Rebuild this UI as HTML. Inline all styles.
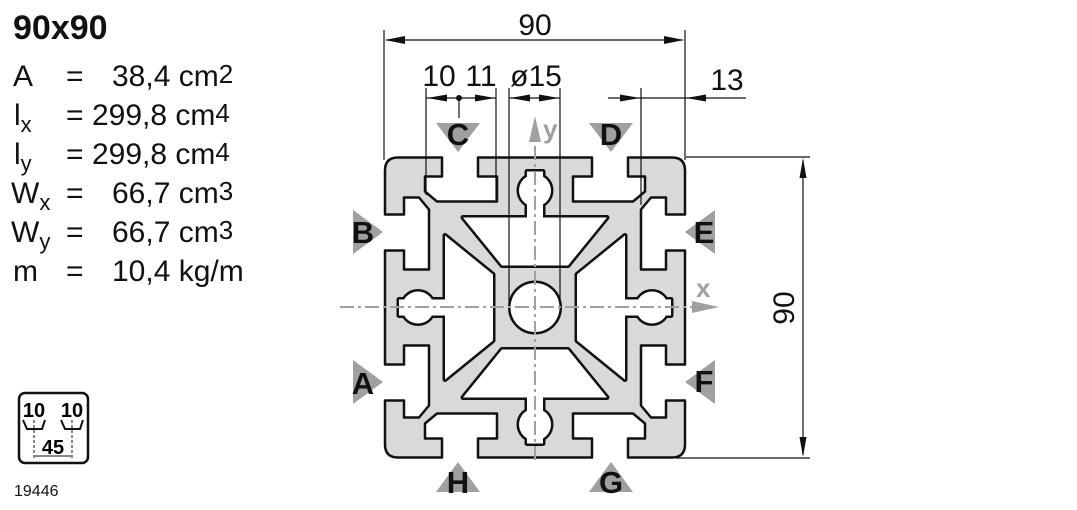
<!DOCTYPE html>
<html><head><meta charset="utf-8"><style>
html,body{margin:0;padding:0;background:#fff;}
body{width:1077px;height:510px;position:relative;overflow:hidden;font-family:"Liberation Sans",sans-serif;}
.t{position:absolute;font-size:30px;color:#111;white-space:nowrap;line-height:1;}
.s{font-size:26px;position:relative;top:-3px}
.b{font-size:22px;position:relative;top:7px}
</style></head><body>
<div class="t" style="left:13px;top:11px;font-weight:bold;font-size:34px;">90x90</div>
<div class="t" style="left:13px;top:62px;">A</div><div class="t" style="left:66px;top:62px;">=</div><div class="t" style="left:112px;top:62px;">38,4 cm<span class="s">2</span></div>
<div class="t" style="left:14px;top:101px;">l<span class="b">x</span></div><div class="t" style="left:66px;top:101px;">=</div><div class="t" style="left:92px;top:101px;">299,8 cm<span class="s">4</span></div>
<div class="t" style="left:14px;top:140px;">l<span class="b">y</span></div><div class="t" style="left:66px;top:140px;">=</div><div class="t" style="left:92px;top:140px;">299,8 cm<span class="s">4</span></div>
<div class="t" style="left:11px;top:179px;">W<span class="b">x</span></div><div class="t" style="left:66px;top:179px;">=</div><div class="t" style="left:112px;top:179px;">66,7 cm<span class="s">3</span></div>
<div class="t" style="left:11px;top:218px;">W<span class="b">y</span></div><div class="t" style="left:66px;top:218px;">=</div><div class="t" style="left:112px;top:218px;">66,7 cm<span class="s">3</span></div>
<div class="t" style="left:13px;top:257px;">m</div><div class="t" style="left:66px;top:257px;">=</div><div class="t" style="left:112px;top:257px;">10,4 kg/m</div>
<div class="t" style="left:14px;top:484px;font-size:16px;">19446</div>

<svg width="1077" height="510" style="position:absolute;left:0;top:0" xmlns="http://www.w3.org/2000/svg" font-family="Liberation Sans, sans-serif">
<!-- icon -->
<rect x="19" y="393" width="69" height="70" rx="6" fill="none" stroke="#111" stroke-width="2.5"/>
<text x="34" y="417" font-size="20" font-weight="bold" text-anchor="middle">10</text>
<text x="72" y="417" font-size="20" font-weight="bold" text-anchor="middle">10</text>
<path d="M23 420 L27 429 L42 429 L45 420 M61 420 L65 429 L80 429 L83 420" fill="none" stroke="#111" stroke-width="2"/>
<text x="53" y="454" font-size="20" font-weight="bold" text-anchor="middle">45</text>
<path d="M34 420 V458 M72 420 V458" stroke="#111" stroke-width="1" stroke-dasharray="3,2"/>
<path d="M35 456 H71" stroke="#111" stroke-width="1"/>

<!-- profile -->
<g transform="translate(535,307.5)">
<path fill="#d9d9d9" stroke="#111" stroke-width="2.5" stroke-linejoin="round" d="
M-137,-150 L-93,-150 L-93,-131 L-110,-131 L-110,-116 L-98,-106 L-38,-106 L-38,-131 L-57,-131 L-57,-150 L57,-150 L57,-131 L38,-131 L38,-106 L98,-106 L110,-116 L110,-131 L93,-131 L93,-150 L137,-150
Q150,-150 150,-137
L150,-93 L131,-93 L131,-110 L116,-110 L106,-98 L106,-38 L131,-38 L131,-57 L150,-57 L150,57 L131,57 L131,38 L106,38 L106,98 L116,110 L131,110 L131,93 L150,93 L150,137
Q150,150 137,150
L93,150 L93,131 L110,131 L110,116 L98,106 L38,106 L38,131 L57,131 L57,150 L-57,150 L-57,131 L-38,131 L-38,106 L-98,106 L-110,116 L-110,131 L-93,131 L-93,150 L-137,150
Q-150,150 -150,137
L-150,93 L-131,93 L-131,110 L-116,110 L-106,98 L-106,38 L-131,38 L-131,57 L-150,57 L-150,-57 L-131,-57 L-131,-38 L-106,-38 L-106,-98 L-116,-110 L-131,-110 L-131,-93 L-150,-93 L-150,-137
Q-150,-150 -137,-150 Z"/>
<defs>
<g id="holes">
<polygon points="-72,-90 72,-90 33,-42 -33,-42"/>
<polygon points="-72,90 72,90 33,42 -33,42"/>
<polygon points="-90,-72 -90,72 -42,33 -42,-33"/>
<polygon points="90,-72 90,72 42,33 42,-33"/>
<circle cx="0" cy="-117" r="16"/><rect x="-8" y="-136" width="16" height="50"/>
<circle cx="0" cy="117" r="16"/><rect x="-8" y="86" width="16" height="50"/>
<circle cx="-117" cy="0" r="16"/><rect x="-136" y="-8" width="50" height="16"/>
<circle cx="117" cy="0" r="16"/><rect x="86" y="-8" width="50" height="16"/>
<circle cx="0" cy="0" r="24.5"/>
</g>
</defs>
<use href="#holes" fill="#111" stroke="#111" stroke-width="5" stroke-linejoin="round"/>
<use href="#holes" fill="#fff"/>
</g>
<g stroke="#a0a0a0" stroke-width="2" stroke-dasharray="14,4,3,4" fill="none">
<line x1="535" y1="460" x2="535" y2="135"/>
<line x1="340" y1="307" x2="700" y2="307"/>
</g>
<polygon points="535,116 529,142 541,142" fill="#a0a0a0"/>
<polygon points="719,307 692,301 692,313" fill="#a0a0a0"/>
<text x="543" y="138" font-size="26" font-weight="bold" fill="#a0a0a0">y</text>
<text x="696" y="297" font-size="26" font-weight="bold" fill="#a0a0a0">x</text>

<!-- dimension lines -->
<g stroke="#111" stroke-width="1.2" fill="none">
<line x1="384" y1="30" x2="384" y2="160"/>
<line x1="685" y1="30" x2="685" y2="160"/>
<line x1="386" y1="40" x2="683" y2="40"/>
<line x1="426" y1="88" x2="426" y2="195"/>
<line x1="496" y1="88" x2="496" y2="200"/>
<line x1="509" y1="88" x2="509" y2="305"/>
<line x1="560" y1="88" x2="560" y2="305"/>
<line x1="426" y1="98" x2="496" y2="98"/>
<line x1="509" y1="98" x2="560" y2="98"/>
<line x1="459" y1="98" x2="459" y2="118"/>
<line x1="608" y1="98" x2="746" y2="98"/>
<line x1="641" y1="88" x2="641" y2="205"/>
<line x1="686" y1="157" x2="810" y2="157"/>
<line x1="676" y1="458" x2="810" y2="458"/>
<line x1="803" y1="160" x2="803" y2="455"/>
</g>
<g fill="#111">
<polygon points="385,40 405,36 405,44"/><polygon points="684,40 664,36 664,44"/>
<polygon points="427,98 447,94.5 447,101.5"/><polygon points="495,98 475,94.5 475,101.5"/>
<polygon points="510,98 530,94.5 530,101.5"/><polygon points="559,98 539,94.5 539,101.5"/>
<polygon points="640,98 620,94.5 620,101.5"/><polygon points="686,98 706,94.5 706,101.5"/>
<polygon points="803,158 799.5,178 806.5,178"/><polygon points="803,457 799.5,437 806.5,437"/>
<circle cx="459" cy="98" r="3"/>
</g>
<g font-size="30" fill="#111" text-anchor="middle">
<text x="535" y="35">90</text>
<text x="439" y="86">10</text>
<text x="481" y="86">11</text>
<text x="536" y="86">ø15</text>
<text x="727" y="90">13</text>
<text transform="translate(794,308) rotate(-90)">90</text>
</g>

<!-- side markers -->
<g fill="#a0a0a0">
<polygon points="436,123 480,123 458,152"/>
<polygon points="589,123 633,123 611,152"/>
<polygon points="436,492 480,492 458,462"/>
<polygon points="589,492 633,492 611,462"/>
<polygon points="353,210 353,254 383,232"/>
<polygon points="353,360 353,404 383,382"/>
<polygon points="715,210 715,254 685,232"/>
<polygon points="715,360 715,404 685,382"/>
</g>
<g font-size="31" font-weight="bold" fill="#111" text-anchor="middle">
<text x="458" y="145">C</text>
<text x="611" y="145">D</text>
<text x="458" y="493">H</text>
<text x="611" y="493">G</text>
<text x="363" y="243">B</text>
<text x="363" y="394">A</text>
<text x="704" y="243">E</text>
<text x="704" y="392">F</text>
</g>
</svg>
</body></html>
